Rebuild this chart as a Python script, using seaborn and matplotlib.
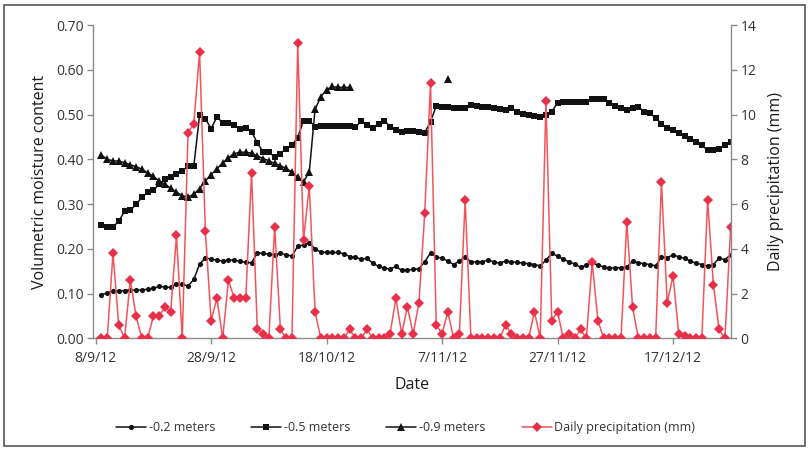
import numpy as np
import pandas as pd
import matplotlib
matplotlib.use("Agg")
import matplotlib.pyplot as plt
from matplotlib.patches import Rectangle
import seaborn as sns

# Daily record, first reading on 9 Sep 2012
start_date = "2012-09-09"

# Volumetric moisture content at -0.2 m
depth_02 = [
    0.097, 0.102, 0.106, 0.106, 0.107, 0.108, 0.108, 0.108, 0.110, 0.112,
    0.116, 0.115, 0.114, 0.122, 0.121, 0.117, 0.132, 0.166, 0.180, 0.177,
    0.175, 0.173, 0.175, 0.175, 0.172, 0.170, 0.169, 0.191, 0.190, 0.188,
    0.187, 0.190, 0.187, 0.184, 0.206, 0.209, 0.214, 0.200, 0.193, 0.192,
    0.192, 0.192, 0.189, 0.183, 0.181, 0.177, 0.179, 0.168, 0.161, 0.157,
    0.155, 0.161, 0.152, 0.153, 0.154, 0.156, 0.171, 0.191, 0.182, 0.179,
    0.173, 0.165, 0.173, 0.182, 0.171, 0.171, 0.171, 0.175, 0.171, 0.168,
    0.173, 0.171, 0.170, 0.168, 0.167, 0.165, 0.162, 0.175, 0.190, 0.184,
    0.177, 0.171, 0.166, 0.159, 0.164, 0.170, 0.163, 0.160, 0.157, 0.158,
    0.158, 0.160, 0.172, 0.169, 0.167, 0.165, 0.162, 0.182, 0.180, 0.187,
    0.182, 0.179, 0.173, 0.168, 0.165, 0.162, 0.165, 0.179, 0.176, 0.187,
]

# Volumetric moisture content at -0.5 m
depth_05 = [
    0.253, 0.249, 0.249, 0.262, 0.284, 0.286, 0.300, 0.315, 0.327, 0.331,
    0.345, 0.356, 0.360, 0.367, 0.374, 0.385, 0.385, 0.499, 0.491, 0.469,
    0.495, 0.482, 0.481, 0.477, 0.469, 0.470, 0.462, 0.437, 0.417, 0.417,
    0.405, 0.413, 0.424, 0.432, 0.449, 0.487, 0.487, 0.473, 0.474, 0.474,
    0.474, 0.474, 0.474, 0.474, 0.472, 0.486, 0.477, 0.471, 0.480, 0.487,
    0.473, 0.465, 0.462, 0.463, 0.463, 0.462, 0.460, 0.484, 0.520, 0.518,
    0.517, 0.515, 0.515, 0.515, 0.521, 0.519, 0.518, 0.517, 0.516, 0.513,
    0.511, 0.514, 0.506, 0.502, 0.500, 0.498, 0.495, 0.499, 0.507, 0.526,
    0.528, 0.528, 0.528, 0.528, 0.528, 0.535, 0.535, 0.535, 0.527, 0.520,
    0.515, 0.511, 0.515, 0.517, 0.507, 0.503, 0.493, 0.480, 0.470, 0.466,
    0.460, 0.452, 0.446, 0.439, 0.432, 0.420, 0.422, 0.423, 0.432, 0.440,
]

# Volumetric moisture content at -0.9 m (sensor gaps left as NaN)
nan = np.nan
depth_09 = [
    0.410, 0.400, 0.397, 0.396, 0.393, 0.388, 0.384, 0.378, 0.370, 0.362,
    0.352, 0.344, 0.336, 0.327, 0.319, 0.316, 0.322, 0.335, 0.352, 0.366,
    0.379, 0.392, 0.404, 0.413, 0.416, 0.416, 0.414, 0.408, 0.402, 0.397,
    0.391, 0.386, 0.380, 0.372, 0.360, 0.350, 0.372, 0.512, 0.540, 0.556,
    0.563, 0.561, 0.561, 0.561, nan, nan, nan, nan, nan, nan,
    nan, nan, nan, nan, nan, nan, nan, nan, nan, nan,
    0.580, nan, nan, nan, nan, nan, nan, nan, nan, nan,
    nan, nan, nan, nan, nan, nan, nan, nan, nan, nan,
    nan, nan, nan, nan, nan, nan, nan, nan, nan, nan,
    nan, nan, nan, nan, nan, nan, nan, nan, nan, nan,
    nan, nan, nan, nan, nan, nan, nan, nan, nan, nan,
]

# Daily precipitation (mm)
precip = [
    0.0, 0.0, 3.8, 0.6, 0.0, 2.6, 1.0, 0.0, 0.0, 1.0,
    1.0, 1.4, 1.2, 4.6, 0.0, 9.2, 9.6, 12.8, 4.8, 0.8,
    1.8, 0.0, 2.6, 1.8, 1.8, 1.8, 7.4, 0.4, 0.2, 0.0,
    5.0, 0.4, 0.0, 0.0, 13.2, 4.4, 6.8, 1.2, 0.0, 0.0,
    0.0, 0.0, 0.0, 0.4, 0.0, 0.0, 0.4, 0.0, 0.0, 0.0,
    0.2, 1.8, 0.2, 1.4, 0.2, 1.6, 5.6, 11.4, 0.6, 0.2,
    1.2, 0.0, 0.2, 6.2, 0.0, 0.0, 0.0, 0.0, 0.0, 0.0,
    0.6, 0.2, 0.0, 0.0, 0.0, 1.2, 0.0, 10.6, 0.8, 1.2,
    0.0, 0.2, 0.0, 0.4, 0.0, 3.4, 0.8, 0.0, 0.0, 0.0,
    0.0, 5.2, 1.4, 0.0, 0.0, 0.0, 0.0, 7.0, 1.6, 2.8,
    0.2, 0.1, 0.0, 0.0, 0.0, 6.2, 2.4, 0.4, 0.0, 5.0,
]

series_labels = ["-0.2 meters", "-0.5 meters", "-0.9 meters", "Daily precipitation (mm)"]
tick_dates = ["2012-09-08", "2012-09-28", "2012-10-18",
              "2012-11-07", "2012-11-27", "2012-12-17"]
tick_labels = ["8/9/12", "28/9/12", "18/10/12", "7/11/12", "27/11/12", "17/12/12"]
moisture_ticks = [0.00, 0.10, 0.20, 0.30, 0.40, 0.50, 0.60, 0.70]
precip_ticks = [0, 2, 4, 6, 8, 10, 12, 14]

sns.set_theme(style="white")
plt.rcParams["font.family"] = ["Open Sans", "DejaVu Sans"]

dates = pd.date_range(start_date, periods=len(precip), freq="D")
df = pd.DataFrame({
    "date": dates,
    "d02": depth_02,
    "d05": depth_05,
    "d09": depth_09,
    "rain": precip,
})
# split the -0.9 m record into continuous runs so gaps stay open
df["run09"] = df["d09"].isna().cumsum()
df09 = df.dropna(subset=["d09"])

fig = plt.figure(figsize=(8.11, 4.50), dpi=100)
ax = fig.add_axes([0.115, 0.248, 0.786, 0.696])
ax2 = ax.twinx()

black = "#111111"
sns.lineplot(data=df, x="date", y="d02", ax=ax, color=black, lw=1.1,
             marker="o", markersize=3.7, markeredgewidth=0, label=series_labels[0])
sns.lineplot(data=df, x="date", y="d05", ax=ax, color=black, lw=1.1,
             marker="s", markersize=4.1, markeredgewidth=0, label=series_labels[1])
sns.lineplot(data=df09, x="date", y="d09", units="run09", estimator=None, ax=ax,
             color=black, lw=1.1, marker="^", markersize=5.2,
             markeredgewidth=0, label=series_labels[2])
sns.lineplot(data=df, x="date", y="rain", ax=ax2, color="#F2545B", lw=1.1,
             marker="D", markersize=4.8, markerfacecolor="#E8304A",
             markeredgewidth=0, label=series_labels[3])

ax.set_ylim(0, 0.70)
ax2.set_ylim(0, 14)
ax.set_yticks(moisture_ticks)
ax.set_yticklabels([f"{v:.2f}" for v in moisture_ticks])
ax2.set_yticks(precip_ticks)
ax2.set_yticklabels([str(v) for v in precip_ticks])

x_ticks = pd.to_datetime(tick_dates)
ax.set_xticks(x_ticks)
ax.set_xticklabels(tick_labels)
ax.set_xlim(pd.Timestamp("2012-09-07 14:00"), pd.Timestamp("2012-12-27 00:00"))

ax.set_xlabel("Date", fontsize=11.5, color="#1a1a1a", labelpad=8)
ax.set_ylabel("Volumetric moisture content", fontsize=11.5, color="#1a1a1a", labelpad=6)
ax2.set_ylabel("Daily precipitation (mm)", fontsize=11.5, color="#1a1a1a", labelpad=8)

spine_c = "#8a8a8a"
for a in (ax, ax2):
    a.grid(False)
    a.set_facecolor("none")
    for s in a.spines.values():
        s.set_visible(False)
ax.spines["left"].set_visible(True)
ax.spines["bottom"].set_visible(True)
ax2.spines["right"].set_visible(True)
for s in (ax.spines["left"], ax.spines["bottom"], ax2.spines["right"]):
    s.set_color(spine_c)
    s.set_linewidth(1.0)

ax.tick_params(axis="y", which="major", direction="out", length=4, width=1,
               color=spine_c, labelsize=10, labelcolor="#333333", left=True, pad=3)
ax.tick_params(axis="x", which="major", direction="out", length=4, width=1,
               color=spine_c, labelsize=10, labelcolor="#333333", bottom=True, pad=5)
ax2.tick_params(axis="y", which="major", direction="out", length=4, width=1,
                color=spine_c, labelsize=10, labelcolor="#333333", right=True, pad=3)

# one shared legend below the plot, one entry per series
handles = {}
for a in (ax, ax2):
    for h, l in zip(*a.get_legend_handles_labels()):
        handles.setdefault(l, h)
    if a.get_legend() is not None:
        a.get_legend().remove()
fig.legend([handles[l] for l in series_labels], series_labels,
           loc="center", bbox_to_anchor=(0.500, 0.049), ncol=4,
           frameon=False, fontsize=9, handlelength=2.4, handletextpad=0.2,
           columnspacing=2.9, labelcolor="#333333")

# chart-area border
fig.patches.append(Rectangle((0.005, 0.008), 0.988, 0.982, transform=fig.transFigure,
                             fill=False, edgecolor="#555555", linewidth=1.2))

fig.savefig("out.png", dpi=100)
